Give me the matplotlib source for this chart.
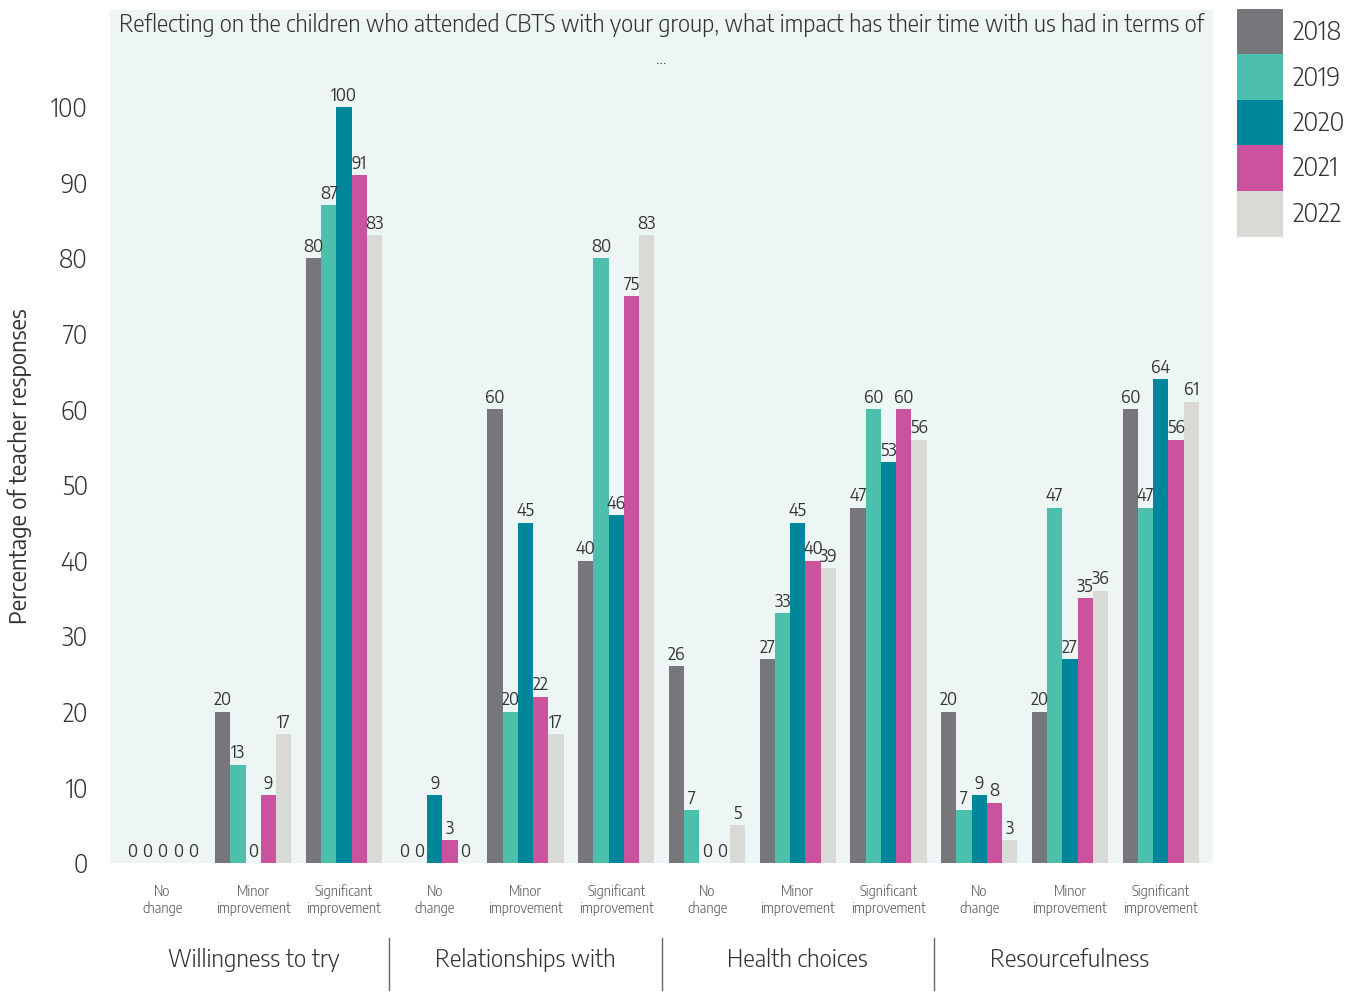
import matplotlib
matplotlib.use("Agg")
import matplotlib.pyplot as plt
from matplotlib.patches import Rectangle
import numpy as np

# categories and values
groups = ["Willingness to try", "Relationships with", "Health choices", "Resourcefulness"]
answers = ["No\nchange", "Minor\nimprovement", "Significant\nimprovement"]
years = ["2018", "2019", "2020", "2021", "2022"]

v2018 = [0, 20, 80, 0, 60, 40, 26, 27, 47, 20, 20, 60]
v2019 = [0, 13, 87, 0, 20, 80, 7, 33, 60, 7, 47, 47]
v2020 = [0, 0, 100, 9, 45, 46, 0, 45, 53, 9, 27, 64]
v2021 = [0, 9, 91, 3, 22, 75, 0, 40, 60, 8, 35, 56]
v2022 = [0, 17, 83, 0, 17, 83, 5, 39, 56, 3, 36, 61]

colors = ["#77777b", "#4cc0ad", "#00869b", "#cb539d", "#d9d9d5"]
TXT = "#333333"

plt.rcParams["font.family"] = ["Encode Sans Semi Condensed", "DejaVu Sans"]
plt.rcParams["font.weight"] = 300

W, H = 1359, 992
fig = plt.figure(figsize=(W / 100, H / 100), dpi=100)
ax = fig.add_axes([110 / W, 1 - 863 / H, 1103 / W, 853 / H])
ax.set_facecolor("#edf6f4")

series = [v2018, v2019, v2020, v2021, v2022]
n_cat = len(v2018)
x = np.arange(n_cat)
w = 0.168

for i, (vals, col) in enumerate(zip(series, colors)):
    pos = x + (i - 2) * w
    ax.bar(pos, vals, width=w, color=col, linewidth=0)
    for px, v in zip(pos, vals):
        ax.text(px, v + 0.3, str(v), ha="center", va="bottom",
                fontsize=12.5, fontweight=400, color=TXT)

ax.set_xlim(-0.579, 11.576)
ax.set_ylim(0, 112.8)
ax.set_yticks(range(0, 101, 10))
ax.tick_params(axis="y", length=0, labelsize=18, labelcolor=TXT, pad=16)
ax.set_xticks(x)
ax.set_xticklabels(answers * len(groups), fontsize=10, color="#555555",
                   linespacing=1.15)
ax.tick_params(axis="x", length=0, pad=15)
for s in ax.spines.values():
    s.set_visible(False)

ax.set_ylabel("Percentage of teacher responses", fontsize=17, color=TXT)
ax.yaxis.set_label_coords(-0.071, 0.465)

# title inside the plot area
ax.text(0.5, 0.982,
        "Reflecting on the children who attended CBTS with your group, what impact has their time with us had in terms of",
        transform=ax.transAxes, ha="center", va="center", fontsize=17, color=TXT)
ax.text(0.5, 0.942, "...", transform=ax.transAxes, ha="center", va="center",
        fontsize=12, color=TXT)

# group labels and separators under the axis
trans = ax.get_xaxis_transform()
for g, name in enumerate(groups):
    ax.text(g * 3 + 1, -0.114, name, transform=trans, ha="center", va="center",
            fontsize=17.5, color=TXT)
    if g > 0:
        ax.plot([g * 3 - 0.5, g * 3 - 0.5], [-0.088, -0.149], transform=trans,
                color="#666666", linewidth=1, clip_on=False)

# legend: stacked colour squares on the right
sq = 45.5
for i, (col, yr) in enumerate(zip(colors, years)):
    top = 9 + i * sq
    fig.add_artist(Rectangle((1237 / W, 1 - (top + sq) / H), sq / W, sq / H,
                             transform=fig.transFigure, color=col, linewidth=0))
    fig.text(1292 / W, 1 - (top + sq / 2 + 1) / H, yr, ha="left", va="center",
             fontsize=18.5, color=TXT)

fig.savefig("out.png", dpi=100)
